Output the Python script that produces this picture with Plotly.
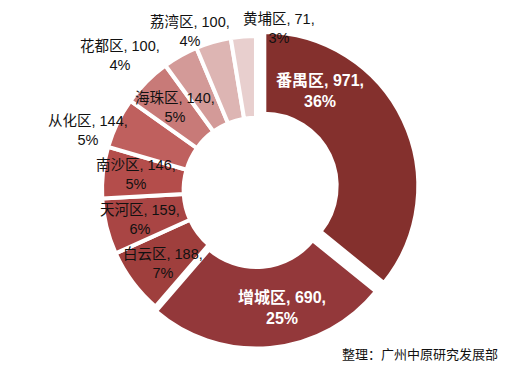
import plotly.graph_objects as go

districts = ["番禺区", "增城区", "白云区", "天河区", "南沙区", "从化区", "海珠区", "花都区", "荔湾区", "黄埔区"]
values = [971, 690, 188, 159, 146, 144, 140, 100, 100, 71]
percents = ["36%", "25%", "7%", "6%", "5%", "5%", "5%", "4%", "4%", "3%"]
colors = ["#84302D", "#93383A", "#9F3F3D", "#A94544", "#B44D4B",
          "#BF605E", "#C87A78", "#D39A98", "#DDB5B3", "#E8CFCE"]
pulls = [0.06, 0.03, 0, 0, 0, 0, 0, 0, 0, 0]

# label anchor positions (pixels from top-left of the reference), separate from data
label_px = [(320, 91), (282, 307), (163, 263), (140, 219), (136, 174),
            (88, 131), (175, 107), (120, 55), (190, 32), (279, 29)]
label_white = [True, True, False, False, False, False, False, False, False, False]

W, H = 507, 367
OFF = 8  # page body margin offset

def px(x, y):
    return (x - OFF) / W, 1 - (y - OFF) / H

fig = go.Figure()
fig.add_trace(go.Pie(
    labels=districts, values=values, sort=False, direction="clockwise",
    rotation=0, hole=0.47, pull=pulls, textinfo="none", hoverinfo="label+value+percent",
    marker=dict(colors=colors, line=dict(color="white", width=4)),
    domain=dict(x=[0.1672, 0.8110], y=[0.0593, 0.9489]),
    showlegend=False,
))

font_family = "Liberation Sans, Arial, Noto Sans CJK SC"
for name, v, p, (x, y), white in zip(districts, values, percents, label_px, label_white):
    ax, ay = px(x, y)
    fig.add_annotation(
        x=ax, y=ay, xref="paper", yref="paper",
        text=f"{name}, {v},<br>{p}", showarrow=False,
        font=dict(family=font_family, size=16 if white else 14.5,
                  color="white" if white else "#111111",
                  weight="bold" if white else "normal"),
        align="center", xanchor="center", yanchor="middle",
    )

fx, fy = px(500, 354)
fig.add_annotation(
    x=fx, y=fy, xref="paper", yref="paper",
    text="整理：广州中原研究发展部", showarrow=False,
    font=dict(family=font_family, size=13, color="#111111"),
    xanchor="right", yanchor="middle",
)

fig.update_layout(
    width=W, height=H, margin=dict(l=0, r=0, t=0, b=0),
    paper_bgcolor="white", plot_bgcolor="white",
)
fig.write_html("out.html")
